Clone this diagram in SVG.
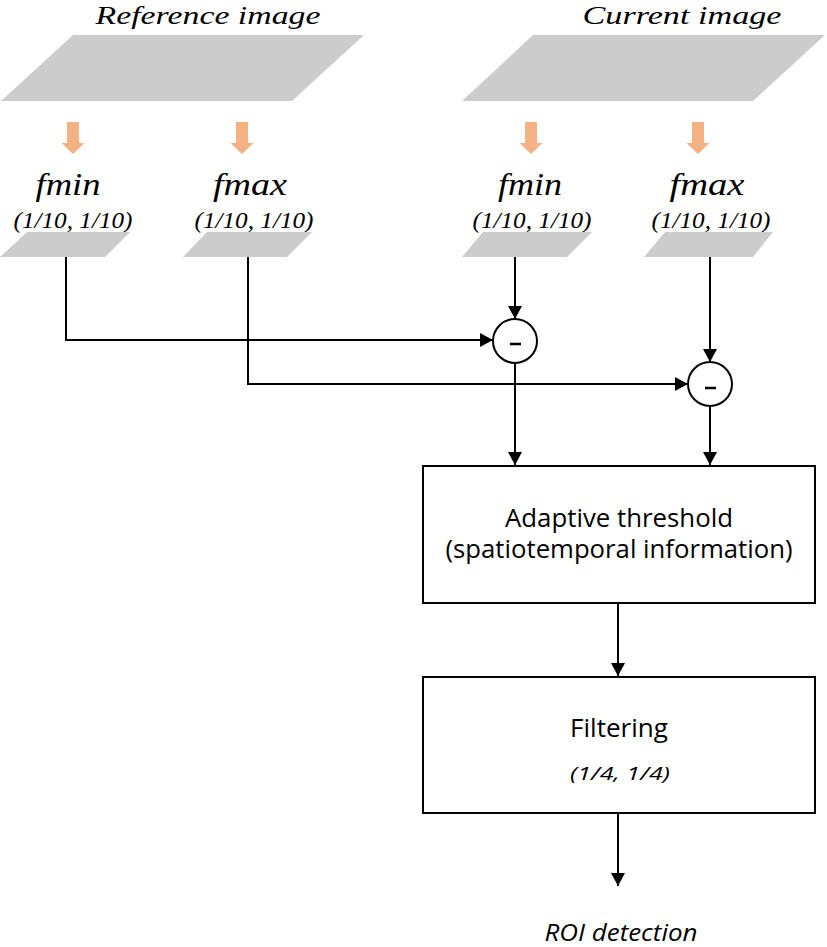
<svg xmlns="http://www.w3.org/2000/svg" width="827" height="947" viewBox="0 0 827 947">
<defs>
<style>
.plane{fill:#cccccc}
.orange{fill:#f4b183}
.title{font-family:"Liberation Serif",serif;font-style:italic;font-size:26px;fill:#000;text-anchor:middle}
.fname{font-family:"Liberation Serif",serif;font-style:italic;font-size:31px;fill:#000;text-anchor:middle}
.scale{font-family:"Liberation Serif",serif;font-style:italic;font-size:24px;fill:#000;text-anchor:middle}
.box{fill:#fff;stroke:#000;stroke-width:2}
.lbl{font-family:"Open Sans","Noto Sans",sans-serif;font-size:25px;fill:#000;text-anchor:middle}
.lbli{font-family:"Open Sans","Noto Sans",sans-serif;font-style:italic;font-size:19px;fill:#000;text-anchor:middle}
.out{font-family:"Open Sans","Noto Sans",sans-serif;font-style:italic;font-size:23px;fill:#000;text-anchor:middle}
.wire{fill:none;stroke:#000;stroke-width:2}
.circ{fill:#fff;stroke:#000;stroke-width:2}
</style>
<marker id="ah" markerWidth="14" markerHeight="14" refX="13" refY="7" orient="auto" markerUnits="userSpaceOnUse">
<path d="M0,0 L13,7 L0,14 Z" fill="#000"/>
</marker>
<path id="oarrow" d="M-6,0 H6 V21 H11.5 L0,32 L-11.5,21 H-6 Z"/>
</defs>

<g id="reference-image">
<text class="title" x="208" y="24" textLength="225" lengthAdjust="spacingAndGlyphs">Reference image</text>
<polygon class="plane" points="73,35 364,35 292,101 1,101"/>
</g>
<g id="current-image">
<text class="title" x="682" y="24" textLength="199" lengthAdjust="spacingAndGlyphs">Current image</text>
<polygon class="plane" points="533,35 825,35 753,101 462,101"/>
</g>

<g id="orange-arrows" class="orange">
<use href="#oarrow" x="73" y="122"/>
<use href="#oarrow" x="242" y="122"/>
<use href="#oarrow" x="531" y="122"/>
<use href="#oarrow" x="698" y="122"/>
</g>

<g id="ref-fmin">
<text class="fname" x="68" y="195" textLength="65" lengthAdjust="spacingAndGlyphs">fmin</text>
<text class="scale" x="73" y="228" textLength="119" lengthAdjust="spacingAndGlyphs">(1/10, 1/10)</text>
<polygon class="plane" points="27,232 130,232 105,257 0,257"/>
</g>
<g id="ref-fmax">
<text class="fname" x="250" y="195" textLength="74" lengthAdjust="spacingAndGlyphs">fmax</text>
<text class="scale" x="254" y="228" textLength="119" lengthAdjust="spacingAndGlyphs">(1/10, 1/10)</text>
<polygon class="plane" points="207,232 312,232 287,257 183,257"/>
</g>
<g id="cur-fmin">
<text class="fname" x="530" y="195" textLength="64" lengthAdjust="spacingAndGlyphs">fmin</text>
<text class="scale" x="532" y="228" textLength="119" lengthAdjust="spacingAndGlyphs">(1/10, 1/10)</text>
<polygon class="plane" points="483,232 592,232 567,257 462,257"/>
</g>
<g id="cur-fmax">
<text class="fname" x="707" y="195" textLength="75" lengthAdjust="spacingAndGlyphs">fmax</text>
<text class="scale" x="711" y="228" textLength="119" lengthAdjust="spacingAndGlyphs">(1/10, 1/10)</text>
<polygon class="plane" points="665,232 773,232 753,257 644,257"/>
</g>

<g id="connectors">
<path class="wire" d="M66,257 V340 H493" marker-end="url(#ah)"/>
<path class="wire" d="M248,257 V384 H688" marker-end="url(#ah)"/>
<path class="wire" d="M515,257 V319" marker-end="url(#ah)"/>
<path class="wire" d="M710,257 V362" marker-end="url(#ah)"/>
<path class="wire" d="M515,363 V465" marker-end="url(#ah)"/>
<path class="wire" d="M710,406 V465" marker-end="url(#ah)"/>
<path class="wire" d="M618,603 V676" marker-end="url(#ah)"/>
<path class="wire" d="M618,813 V886" marker-end="url(#ah)"/>
</g>

<g id="sub1">
<circle class="circ" cx="515" cy="341" r="22"/>
<line x1="510" y1="344" x2="521" y2="344" stroke="#000" stroke-width="2.5"/>
</g>
<g id="sub2">
<circle class="circ" cx="710" cy="384" r="22"/>
<line x1="705" y1="388" x2="716" y2="388" stroke="#000" stroke-width="2.5"/>
</g>

<g id="adaptive-threshold">
<rect class="box" x="423" y="466" width="392" height="137"/>
<text class="lbl" x="619" y="527" textLength="228" lengthAdjust="spacingAndGlyphs">Adaptive threshold</text>
<text class="lbl" x="619" y="558" textLength="347" lengthAdjust="spacingAndGlyphs">(spatiotemporal information)</text>
</g>

<g id="filtering">
<rect class="box" x="423" y="677" width="392" height="136"/>
<text class="lbl" x="619" y="737" textLength="98" lengthAdjust="spacingAndGlyphs">Filtering</text>
<text class="lbli" x="620" y="780" textLength="100" lengthAdjust="spacingAndGlyphs">(1/4,  1/4)</text>
</g>

<g id="roi">
<text class="out" x="621" y="941" textLength="153" lengthAdjust="spacingAndGlyphs">ROI detection</text>
</g>
</svg>
